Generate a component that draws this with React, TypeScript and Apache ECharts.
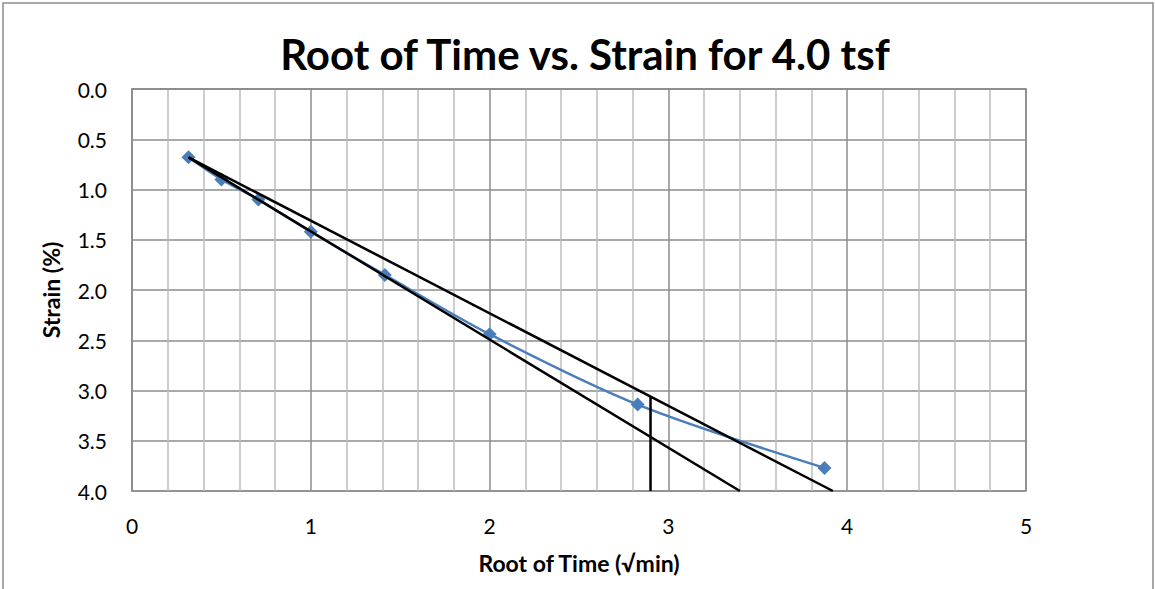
import React, { useEffect, useRef } from "react";
import * as echarts from "echarts";

const rootTime = [0.316, 0.5, 0.707, 1.0, 1.414, 2.0, 2.828, 3.873];
const strain = [0.68, 0.9, 1.1, 1.42, 1.85, 2.44, 3.14, 3.77];
const steepLine = [
  [0.316, 0.68],
  [3.4, 4.0],
];
const shallowLine = [
  [0.316, 0.68],
  [3.92, 4.0],
];
const verticalLine = [
  [2.9, 3.06],
  [2.9, 4.0],
];

const titleText = "Root of Time vs. Strain for 4.0 tsf";
const xName = "Root of Time (√min)";
const yName = "Strain (%)";

export default function App() {
  const ref = useRef<HTMLDivElement>(null);
  useEffect(() => {
    document.body.style.margin = "0";
    const chart = echarts.init(ref.current!, undefined, { renderer: "svg" });
    const font = "Lato, 'Open Sans', sans-serif";
    chart.setOption({
      animation: false,
      backgroundColor: "#ffffff",
      textStyle: { fontFamily: font },
      title: {
        text: titleText,
        left: 580,
        textAlign: "center",
        top: 28,
        textStyle: { fontSize: 42, fontWeight: "bold", color: "#000", fontFamily: font },
      },
      graphic: [
        {
          type: "rect",
          shape: { x: 3, y: 3, width: 1150, height: 600 },
          style: { fill: "none", stroke: "#8c8c8c", lineWidth: 1.5 },
          silent: true,
        },
      ],
      grid: {
        left: 132,
        right: 129,
        top: 89,
        bottom: 98,
        show: true,
        borderColor: "#8c8c8c",
        borderWidth: 1.5,
      },
      xAxis: {
        type: "value",
        min: 0,
        max: 5,
        interval: 1,
        name: xName,
        nameLocation: "middle",
        nameGap: 60,
        nameTextStyle: { fontSize: 23, fontWeight: "bold", color: "#000", fontFamily: font },
        axisLine: { show: true, lineStyle: { color: "#8c8c8c", width: 1.5 } },
        axisTick: { show: false },
        axisLabel: { fontSize: 21, color: "#000", margin: 24, fontFamily: font },
        splitLine: { show: true, lineStyle: { color: "#8c8c8c", width: 1.5 } },
        minorTick: { show: false, splitNumber: 5 },
        minorSplitLine: { show: true, lineStyle: { color: "#bdbdbd", width: 1.5 } },
      },
      yAxis: {
        type: "value",
        min: 0,
        max: 4,
        interval: 0.5,
        inverse: true,
        name: yName,
        nameLocation: "middle",
        nameGap: 70,
        nameTextStyle: { fontSize: 23, fontWeight: "bold", color: "#000", fontFamily: font },
        axisLine: { show: true, lineStyle: { color: "#8c8c8c", width: 1.5 } },
        axisTick: { show: false },
        axisLabel: {
          fontSize: 21,
          color: "#000",
          margin: 25,
          fontFamily: font,
          formatter: (v: number) => v.toFixed(1),
        },
        splitLine: { show: true, lineStyle: { color: "#8c8c8c", width: 1.5 } },
      },
      series: [
        {
          type: "line",
          data: rootTime.map((x, i) => [x, strain[i]]),
          smooth: 0.3,
          symbol: "diamond",
          symbolSize: 14,
          lineStyle: { color: "#4a7ebb", width: 2.5 },
          itemStyle: { color: "#4a7ebb" },
          z: 3,
        },
        {
          type: "line",
          data: steepLine,
          symbol: "none",
          lineStyle: { color: "#000", width: 2.5 },
          z: 4,
        },
        {
          type: "line",
          data: shallowLine,
          symbol: "none",
          lineStyle: { color: "#000", width: 2.5 },
          z: 4,
        },
        {
          type: "line",
          data: verticalLine,
          symbol: "none",
          lineStyle: { color: "#000", width: 2.5 },
          z: 4,
        },
      ],
    });
    return () => chart.dispose();
  }, []);
  return <div ref={ref} style={{ width: 1155, height: 589 }} />;
}
